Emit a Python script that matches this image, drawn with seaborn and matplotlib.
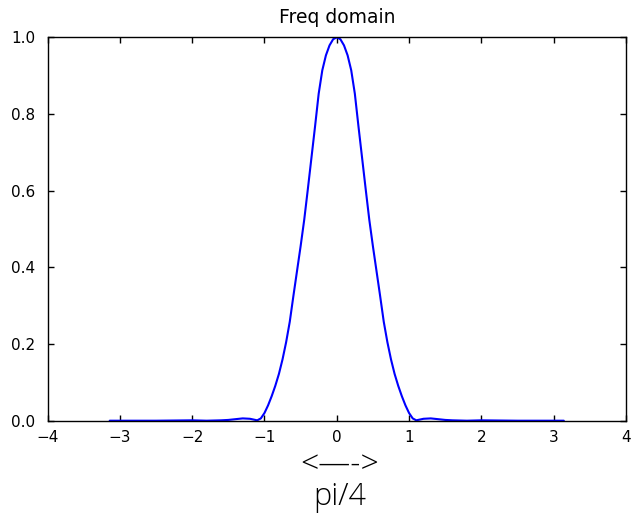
import matplotlib
matplotlib.use("Agg")
import matplotlib.pyplot as plt
import seaborn as sns
import pandas as pd

# Frequency values (from -pi to pi)
freq = [-3.14, -2.5, -2.0, -1.8, -1.6, -1.5, -1.4, -1.3, -1.2, -1.15, -1.1, -1.05,
        -1.0, -0.95, -0.9, -0.85, -0.8, -0.75, -0.7, -0.65, -0.6, -0.55, -0.5,
        -0.45, -0.4, -0.35, -0.3, -0.25, -0.2, -0.15, -0.1, -0.05, 0.0,
        0.05, 0.1, 0.15, 0.2, 0.25, 0.3, 0.35, 0.4, 0.45, 0.5, 0.55, 0.6,
        0.65, 0.7, 0.75, 0.8, 0.85, 0.9, 0.95, 1.0, 1.05, 1.1, 1.15, 1.2,
        1.3, 1.4, 1.5, 1.6, 1.8, 2.0, 2.5, 3.14]
magnitude = [0.000, 0.000, 0.001, 0.000, 0.001, 0.002, 0.004, 0.006, 0.005, 0.003, 0.001, 0.006,
             0.020, 0.040, 0.064, 0.091, 0.122, 0.160, 0.205, 0.258, 0.325, 0.390, 0.455,
             0.524, 0.604, 0.686, 0.768, 0.853, 0.914, 0.953, 0.979, 0.995, 1.000,
             0.995, 0.979, 0.953, 0.914, 0.853, 0.768, 0.686, 0.604, 0.524, 0.455, 0.390, 0.325,
             0.258, 0.205, 0.160, 0.122, 0.091, 0.064, 0.040, 0.020, 0.006, 0.001, 0.003, 0.005,
             0.006, 0.004, 0.002, 0.001, 0.000, 0.001, 0.000, 0.000]

x_ticks = [-4, -3, -2, -1, 0, 1, 2, 3, 4]
y_ticks = [0.0, 0.2, 0.4, 0.6, 0.8, 1.0]
title = "Freq domain"
arrow_text = "<\u2014->"
note_text = "pi/4"

sns.set_style("ticks")
plt.rcParams.update({
    "font.family": ["DejaVu Sans"],
    "text.color": "black",
    "xtick.direction": "in",
    "ytick.direction": "in",
    "xtick.top": True,
    "ytick.right": True,
    "xtick.major.size": 4.5,
    "ytick.major.size": 4.5,
    "axes.edgecolor": "black",
    "axes.linewidth": 1.0,
    "xtick.color": "black",
    "ytick.color": "black",
})

df = pd.DataFrame({"freq": freq, "magnitude": magnitude})

fig = plt.figure(figsize=(6.32, 5.19), dpi=100)
ax = fig.add_axes([0.0752, 0.1894, 0.9153, 0.7387])
sns.lineplot(data=df, x="freq", y="magnitude", ax=ax, color="#0000ff",
             linewidth=1.5, estimator=None, sort=True)

ax.set_xlim(-4, 4)
ax.set_ylim(0, 1)
ax.set_xticks(x_ticks)
ax.set_yticks(y_ticks)
ax.set_xticklabels([f"{v}".replace("-", "\u2212") for v in x_ticks])
ax.set_yticklabels([f"{v:.1f}" for v in y_ticks])
ax.tick_params(labelsize=11, width=1.0)
ax.tick_params(axis="x", pad=7)
ax.tick_params(axis="y", pad=9)
ax.set_xlabel("")
ax.set_ylabel("")
ax.set_title(title, fontsize=13.5, pad=10, color="black")

fig.text(0.538, 1 - 465 / 519, arrow_text, ha="center", va="center", color="black",
         fontsize=23, family=["Open Sans", "DejaVu Sans"], fontweight="light")
fig.text(0.538, 1 - 497 / 519, note_text, ha="center", va="center", color="black",
         fontsize=22, family=["Open Sans", "DejaVu Sans"], fontweight="light")

fig.savefig("out.png", dpi=100)
